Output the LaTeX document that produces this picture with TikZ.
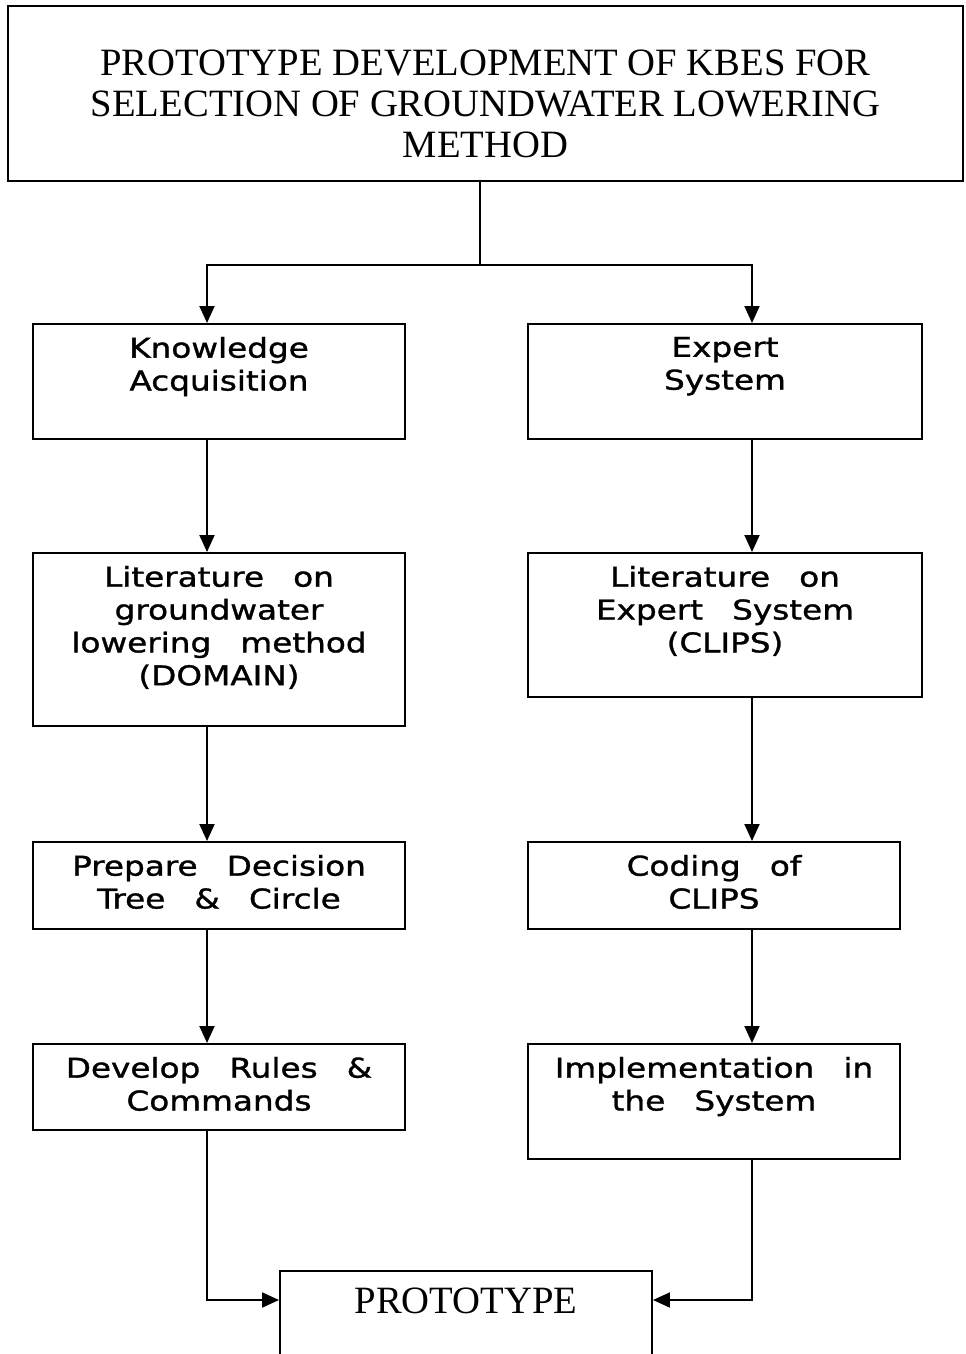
\documentclass[tikz,border=0pt]{standalone}
\usepackage{fontspec}
\setmainfont{Liberation Serif}
\newfontfamily\boxfont[FakeStretch=1.2,FakeBold=1.2,WordSpace=2.8]{DejaVu Sans}
\usetikzlibrary{positioning,arrows.meta,calc}

% text set at the top of a box of fixed size: width, height, top gap, text
\newcommand{\topbox}[4]{\parbox[c][#2][t]{#1}{\centering\vspace*{#3}#4}}

\tikzset{
  fig/.style={line width=1.1pt},
  box/.style={draw,line width=1.1pt,inner sep=0pt,anchor=north},
  ln/.style={-{Triangle[length=3.4mm,width=3mm]},line width=1.1pt},
  stxt/.style={font=\boxfont\fontsize{15.5}{18.7}\selectfont},
  rtxt/.style={font=\fontsize{22}{23.2}\selectfont},
}

\begin{document}
\begin{tikzpicture}[fig]
\useasboundingbox (0,0) rectangle (19.30,-27.08);
\clip (0,0) rectangle (19.30,-27.08);

% Title
\node[box,rtxt] (title) at (9.71,-0.10)
  {\topbox{19.10cm}{3.50cm}{0.88cm}{PROTOTYPE DEVELOPMENT OF KBES FOR\\
   SELECTION OF GROUNDWATER LOWERING\\ METHOD}};

% branch columns
\coordinate (lx) at (4.14,0);
\coordinate (rx) at (15.04,0);
\coordinate (split) at (9.60,-5.30);
\coordinate (join) at (0,-26.00);

% Row 1
\node[box,stxt] (ka) at (4.38,-6.46)
  {\topbox{7.44cm}{2.30cm}{0.26cm}{Knowledge\\Acquisition}};
\node[box,stxt] (es) at (14.50,-6.46)
  {\topbox{7.88cm}{2.30cm}{0.26cm}{Expert\\System}};

% Row 2
\node[box,stxt] (lgw) at (4.38,-11.04)
  {\topbox{7.44cm}{3.46cm}{0.26cm}{Literature on\\groundwater\\lowering method\\(DOMAIN)}};
\node[box,stxt] (les) at (14.50,-11.04)
  {\topbox{7.88cm}{2.88cm}{0.26cm}{Literature on\\Expert System\\(CLIPS)}};

% Row 3
\node[box,stxt] (pdt) at (4.38,-16.82)
  {\topbox{7.44cm}{1.74cm}{0.26cm}{Prepare Decision\\Tree \& Circle}};
\node[box,stxt] (cod) at (14.28,-16.82)
  {\topbox{7.44cm}{1.74cm}{0.26cm}{Coding of\\CLIPS}};

% Row 4
\node[box,stxt] (drc) at (4.38,-20.86)
  {\topbox{7.44cm}{1.72cm}{0.26cm}{Develop Rules \&\\Commands}};
\node[box,stxt] (imp) at (14.28,-20.86)
  {\topbox{7.44cm}{2.30cm}{0.26cm}{Implementation in\\the System}};

% Result
\node[box,rtxt] (proto) at (9.32,-25.40)
  {\topbox{7.44cm}{3.00cm}{0.34cm}{PROTOTYPE}};

% Title to both branches
\draw (title.south -| split) -- (split);
\draw[ln] (split) -| (ka.north -| lx);
\draw[ln] (split) -| (es.north -| rx);

% Left branch
\draw[ln] (ka.south -| lx) -- (lgw.north -| lx);
\draw[ln] (lgw.south -| lx) -- (pdt.north -| lx);
\draw[ln] (pdt.south -| lx) -- (drc.north -| lx);

% Right branch
\draw[ln] (es.south -| rx) -- (les.north -| rx);
\draw[ln] (les.south -| rx) -- (cod.north -| rx);
\draw[ln] (cod.south -| rx) -- (imp.north -| rx);

% Both branches into the prototype
\draw[ln] (drc.south -| lx) |- (proto.west |- join);
\draw[ln] (imp.south -| rx) |- (proto.east |- join);

\end{tikzpicture}
\end{document}
